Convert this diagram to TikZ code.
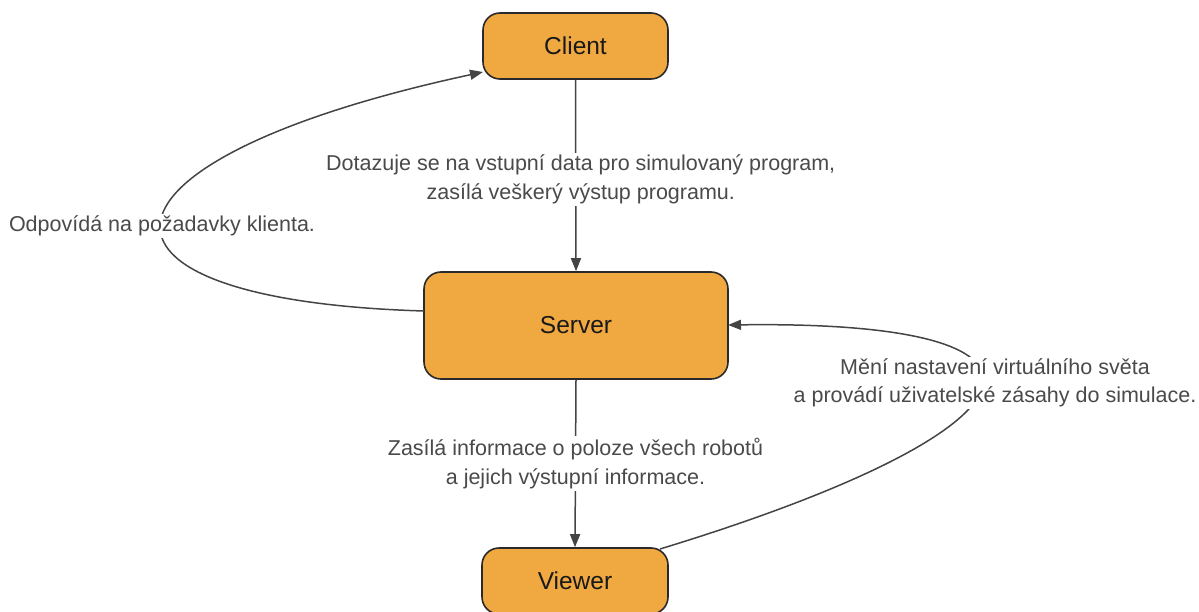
\documentclass[tikz,border=0pt]{standalone}
\usepackage{fontspec}
\setmainfont{Liberation Sans}
\usetikzlibrary{arrows.meta}
\definecolor{boxfill}{HTML}{F0A841}
\definecolor{boxline}{HTML}{2A2A2A}
\definecolor{edgecol}{HTML}{444444}
\definecolor{labcol}{HTML}{4A4A4A}
\begin{document}
\begin{tikzpicture}[x=1pt,y=-1pt,
  box/.style={draw=boxline,fill=boxfill,line width=1.6pt,rounded corners=17pt,
    inner sep=0pt,font=\fontsize{24.5}{28}\selectfont,text=black!90},
  conn/.style={draw=edgecol,line width=1.5pt,-{Triangle[length=13pt,width=10pt]}},
  lab/.style={fill=white,inner sep=2pt,align=center,text=labcol,
    font=\fontsize{21.5}{28.5}\selectfont}]
\useasboundingbox (0,0) rectangle (1199,612);
\node[box,minimum width=185pt,minimum height=66pt] (client) at (575.5,46) {Client};
\node[box,minimum width=304pt,minimum height=107pt] (server) at (576,325.5) {Server};
\node[box,minimum width=186pt,minimum height=66pt] (viewer) at (575,581) {Viewer};
\coordinate (sw) at (424,311);
\coordinate (cw) at (483,72);
\coordinate (vn) at (660,549);
\coordinate (se) at (728,325);
\draw[conn] (client.south) -- node[lab,pos=0.52,xshift=5pt]{Dotazuje se na vstupní data pro simulovaný program,\\zasílá veškerý výstup programu.} (server.north);
\draw[conn] (server.south) -- node[lab,pos=0.5]{Zasílá informace o poloze všech robotů\\a jejich výstupní informace.} (viewer.north);
\draw[conn] (sw) .. controls (55,300) and (75,160) .. (cw);
\node[lab] (l2) at (162,226) {Odpovídá na požadavky klienta.};
\draw[conn] (vn) .. controls (1050,430) and (1100,320) .. (se);
\node[lab] (l4) at (995,383) {Mění nastavení virtuálního světa\\a provádí uživatelské zásahy do simulace.};
\end{tikzpicture}
\end{document}
